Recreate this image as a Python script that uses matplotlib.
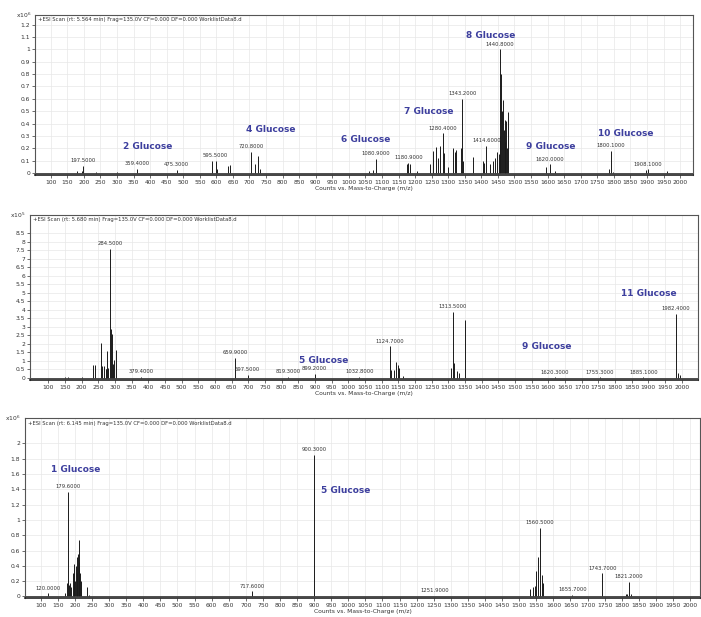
import matplotlib
matplotlib.use("Agg")
import matplotlib.pyplot as plt

# ---------------- data ----------------
# Panel 1 (x10^6)
top_mz = [180, 193, 198, 237, 300, 362, 480, 586, 598, 601, 636, 640, 705, 717, 726, 733,
          1060, 1073, 1082, 1175, 1180, 1185, 1205, 1245, 1255, 1262, 1270, 1275, 1283, 1288, 1298,
          1313, 1320, 1325, 1338, 1342, 1345, 1375, 1405, 1408, 1415, 1425, 1435, 1441, 1447, 1452,
          1455, 1457, 1460, 1462, 1465, 1467, 1470, 1472, 1475, 1478, 1482,
          1595, 1608, 1623, 1786, 1792, 1797, 1898, 1902, 1960]
top_int = [0.02, 0.02, 0.057, 0.01, 0.006, 0.035, 0.025, 0.095, 0.10, 0.03, 0.057, 0.062, 0.168, 0.075, 0.138, 0.03,
           0.016, 0.027, 0.116, 0.076, 0.08, 0.07, 0.02, 0.076, 0.18, 0.21, 0.12, 0.22, 0.32, 0.16, 0.05,
           0.20, 0.17, 0.19, 0.20, 0.60, 0.10, 0.13, 0.10, 0.08, 0.22, 0.076, 0.10, 0.12, 0.17, 0.15,
           0.30, 1.00, 0.80, 0.50, 0.59, 0.35, 0.43, 0.25, 0.42, 0.20, 0.49,
           0.05, 0.07, 0.016, 0.035, 0.18, 0.01, 0.022, 0.03, 0.016]
top_lab_mz = [198, 362, 480, 598, 705, 1082, 1180, 1283, 1342, 1415, 1457, 1608, 1792, 1902]
top_lab_txt = ["197.5000", "359.4000", "475.3000", "595.5000", "720.8000", "1080.9000", "1180.9000",
               "1280.4000", "1343.2000", "1414.6000", "1440.8000", "1620.0000", "1800.1000", "1908.1000"]
top_glu_txt = ["2 Glucose", "4 Glucose", "6 Glucose", "7 Glucose", "8 Glucose", "9 Glucose", "10 Glucose"]
top_glu_mz = [393, 765, 1052, 1240, 1428, 1610, 1835]
top_glu_y = [0.216, 0.35, 0.27, 0.50, 1.11, 0.216, 0.32]
top_yticks = [0, 0.1, 0.2, 0.3, 0.4, 0.5, 0.6, 0.7, 0.8, 0.9, 1, 1.1, 1.2]

# Panel 2 (x10^5)
mid_mz = [150, 160, 200, 235, 240, 258, 261, 266, 272, 274, 277, 280, 284.5, 289, 292, 294, 298, 303,
          379.4, 659.9, 697.5, 819.3, 899.2, 1032.8,
          1124.7, 1127.7, 1135.7, 1142.7, 1147.7, 1152.7, 1162.7,
          1307.7, 1313.5, 1317.7, 1324.7, 1332.7, 1348.7,
          1620.3, 1755.3, 1885.1, 1982.4, 1990.4, 1995.4]
mid_int = [0.05, 0.04, 0.05, 0.74, 0.74, 2.05, 0.7, 0.7, 0.5, 0.55, 1.6, 0.58, 7.6, 2.87, 2.58, 0.8, 1.07, 1.62,
           0.08, 1.17, 0.2, 0.05, 0.25, 0.05,
           1.86, 0.49, 0.45, 0.92, 0.78, 0.6, 0.1,
           0.6, 3.87, 0.88, 0.4, 0.3, 3.38,
           0.04, 0.04, 0.04, 3.75, 0.3, 0.15]
mid_lab_mz = [284.5, 379.4, 659.9, 697.5, 819.3, 899.2, 1032.8, 1124.7, 1313.5, 1620.3, 1755.3, 1885.1, 1982.4]
mid_lab_txt = ["284.5000", "379.4000", "659.9000", "697.5000", "819.3000", "899.2000", "1032.8000",
               "1124.7000", "1313.5000", "1620.3000", "1755.3000", "1885.1000", "1982.4000"]
mid_glu_txt = ["5 Glucose", "9 Glucose", "11 Glucose"]
mid_glu_mz = [927, 1594, 1900]
mid_glu_y = [1.0, 1.86, 4.98]
mid_yticks = [0, 0.5, 1, 1.5, 2, 2.5, 3, 3.5, 4, 4.5, 5, 5.5, 6, 6.5, 7, 7.5, 8, 8.5]

# Panel 3 (x10^6)
bot_mz = [121, 172, 176.7, 179.6, 183, 186, 190, 193, 196, 198, 200, 202.6, 205.5, 207, 209, 211.5, 213, 215,
          219, 234, 240, 717.6, 900.3, 1251.9,
          1531.5, 1541.5, 1546.5, 1550.5, 1555.5, 1560.5, 1565.5, 1570.5,
          1655.7, 1743.7, 1813, 1816, 1821.2, 1828]
bot_int = [0.04, 0.05, 0.18, 1.37, 0.15, 0.18, 0.12, 0.30, 0.35, 0.42, 0.20, 0.40, 0.52, 0.30, 0.56, 0.74, 0.45, 0.30,
           0.20, 0.12, 0.02, 0.065, 1.85, 0.01,
           0.10, 0.13, 0.14, 0.33, 0.52, 0.90, 0.28, 0.17,
           0.02, 0.30, 0.03, 0.03, 0.19, 0.03]
bot_lab_mz = [121, 179.6, 717.6, 900.3, 1251.9, 1560.5, 1655.7, 1743.7, 1821.2]
bot_lab_txt = ["120.0000", "179.6000", "717.6000", "900.3000", "1251.9000", "1560.5000", "1655.7000",
               "1743.7000", "1821.2000"]
bot_glu_txt = ["1 Glucose", "5 Glucose"]
bot_glu_mz = [203, 993]
bot_glu_y = [1.66, 1.38]
bot_yticks = [0, 0.2, 0.4, 0.6, 0.8, 1, 1.2, 1.4, 1.6, 1.8, 2]

x_ticks = list(range(100, 2001, 50))

headers = ["+ESI Scan (rt: 5.564 min) Frag=135.0V CF=0.000 DF=0.000 WorklistData8.d",
           "+ESI Scan (rt: 5.680 min) Frag=135.0V CF=0.000 DF=0.000 WorklistData8.d",
           "+ESI Scan (rt: 6.145 min) Frag=135.0V CF=0.000 DF=0.000 WorklistData8.d"]
exponents = ["6", "5", "6"]

# ---------------- layout ----------------
W, H = 701, 617
fig = plt.figure(figsize=(W / 100, H / 100), dpi=100)
fig.patch.set_facecolor("white")

def rect(l, r, t, b):
    return [l / W, 1 - b / H, (r - l) / W, (b - t) / H]

panels = [
    dict(rect=rect(35, 693, 15, 175), xlim=(52.6, 2039), ylim=(-0.016, 1.278), yt=top_yticks,
         mz=top_mz, it=top_int, lmz=top_lab_mz, ltx=top_lab_txt,
         gtx=top_glu_txt, gmz=top_glu_mz, gy=top_glu_y),
    dict(rect=rect(30, 698, 215, 380), xlim=(45, 2049), ylim=(-0.12, 9.58), yt=mid_yticks,
         mz=mid_mz, it=mid_int, lmz=mid_lab_mz, ltx=mid_lab_txt,
         gtx=mid_glu_txt, gmz=mid_glu_mz, gy=mid_glu_y),
    dict(rect=rect(25, 700, 418, 598), xlim=(54, 2029), ylim=(-0.02, 2.33), yt=bot_yticks,
         mz=bot_mz, it=bot_int, lmz=bot_lab_mz, ltx=bot_lab_txt,
         gtx=bot_glu_txt, gmz=bot_glu_mz, gy=bot_glu_y),
]

blue = "#3d3f9e"
for i, p in enumerate(panels):
    ax = fig.add_axes(p["rect"])
    ax.set_xlim(*p["xlim"])
    ax.set_ylim(*p["ylim"])
    ax.set_xticks(x_ticks)
    ax.set_xticklabels([str(v) for v in x_ticks])
    ax.set_yticks(p["yt"])
    ax.set_yticklabels(["{:g}".format(v) for v in p["yt"]])
    ax.tick_params(axis="both", labelsize=4.3, length=2, width=0.5, pad=1.5, colors="#333333")
    ax.grid(True, color="#e8e8e8", linewidth=0.5)
    ax.set_axisbelow(True)
    for s in ax.spines.values():
        s.set_color("#555555")
        s.set_linewidth(0.8)
    ax.spines["bottom"].set_color("#222222")
    ax.spines["bottom"].set_linewidth(1.2)

    ax.vlines(p["mz"], 0, p["it"], colors="#1a1a1a", linewidth=0.7)
    ax.axhline(0, color="#333333", linewidth=0.6)

    for t, m in zip(p["ltx"], p["lmz"]):
        h = p["it"][p["mz"].index(m)]
        ax.annotate(t, (m, h), xytext=(0, 2), textcoords="offset points",
                    ha="center", va="bottom", fontsize=3.8, color="#333333")
    for t, m, y in zip(p["gtx"], p["gmz"], p["gy"]):
        ax.text(m, y, t, ha="center", va="center", fontsize=6.5, fontweight="bold",
                color=blue, family="DejaVu Sans")

    ax.text(0.004, 0.985, headers[i], transform=ax.transAxes, ha="left", va="top",
            fontsize=3.8, color="#333333")
    ax.text(-0.006, 1.0, r"x10$^{%s}$" % exponents[i], transform=ax.transAxes,
            ha="right", va="center", fontsize=4.3, color="#333333")
    ax.set_xlabel("Counts vs. Mass-to-Charge (m/z)", fontsize=4.3, labelpad=1, color="#333333")

fig.savefig("out.png", dpi=100, facecolor="white")
